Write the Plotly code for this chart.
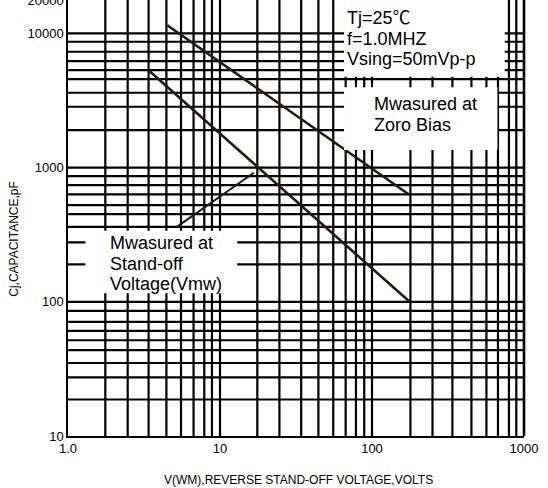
import plotly.graph_objects as go

# ---- data ----
zero_bias_v = [4.5, 175]
zero_bias_pf = [11500, 630]
standoff_v = [3.4, 177]
standoff_pf = [5300, 100]
leader_v = [5.2, 16.7]
leader_pf = [362, 915]

x_grid = [1.76, 2.47, 3.39, 4.44, 5.54, 6.70, 7.88, 8.85, 10,
          17.6, 24.6, 34.2, 44.4, 55.6, 67.1, 78.4, 88.9, 100,
          179, 250, 338, 451, 566, 674, 796, 890]
y_grid = [18.7, 27.3, 35.0, 43.6, 51.7, 60.7, 70.8, 85.5, 100,
          190, 277, 362, 450, 525, 631, 741, 864, 1000,
          1904, 2841, 3612, 4571, 5333, 6223, 7302, 8670, 10000]
x_tick_vals = [1, 10, 100, 1000]
x_tick_text = ["1.0", "10", "100", "1000"]
y_tick_vals = [10, 100, 1000, 10000, 17660]
y_tick_text = ["10", "100", "1000", "10000", "20000"]

note_top = ["Tj=25\u2103", "f=1.0MHZ", "Vsing=50mVp-p"]
note_zero = ["Mwasured at", "Zoro Bias"]
note_standoff = ["Mwasured at", "Stand-off", "Voltage(Vmw)"]
x_title = "V(WM),REVERSE STAND-OFF VOLTAGE,VOLTS"
y_title = "Cj,CAPACITANCE,pF"

# ---- layout geometry (pixels) ----
W, H = 548, 488
L, R, T, B = 67.5, 524.3, 0.0, 435.7
PW, PH = R - L, B - T
FONT = "Liberation Sans, Arial, Noto Sans CJK SC, sans-serif"
X_MIN, X_MAX = 1, 1000
Y_MIN, Y_MAX = 10, 20000


def px(xp):
    return (xp - L) / PW


def py(yp):
    return (B - yp) / PH


fig = go.Figure()

# grid
gx, gy = [], []
for v in x_grid:
    gx += [v, v, None]
    gy += [Y_MIN, Y_MAX, None]
for v in y_grid:
    gx += [X_MIN, X_MAX, None]
    gy += [v, v, None]
fig.add_trace(go.Scatter(x=gx, y=gy, mode="lines",
                         line=dict(color="black", width=2.2),
                         hoverinfo="skip", showlegend=False))

# curves
curve_color = "#231815"
fig.add_trace(go.Scatter(x=zero_bias_v, y=zero_bias_pf, mode="lines",
                         line=dict(color=curve_color, width=2.6),
                         showlegend=False))
fig.add_trace(go.Scatter(x=standoff_v, y=standoff_pf, mode="lines",
                         line=dict(color=curve_color, width=2.6),
                         showlegend=False))
fig.add_trace(go.Scatter(x=leader_v, y=leader_pf, mode="lines",
                         line=dict(color=curve_color, width=2.0),
                         showlegend=False))

shapes = []
# white label boxes
for (x0, x1, y0, y1) in [(344, 505, -2, 76.7), (344, 497.7, 87.3, 150),
                         (85, 237, 230.7, 293)]:
    shapes.append(dict(type="rect", xref="paper", yref="paper",
                       x0=px(x0), x1=px(x1), y0=py(y1), y1=py(y0),
                       fillcolor="white", line=dict(width=0), layer="above"))
# right border
shapes.append(dict(type="line", xref="paper", yref="paper", x0=1, x1=1,
                   y0=0, y1=1.01, line=dict(color="black", width=2.6),
                   layer="above"))

annotations = []


def note(lines, xl, centers):
    for t, c in zip(lines, centers):
        annotations.append(dict(text=t, xref="paper", yref="paper",
                                x=px(xl), y=py(c), xanchor="left",
                                yanchor="middle", showarrow=False,
                                font=dict(family=FONT, size=18, color="black")))


note(note_top, 345, [17.5, 39, 59])
note(note_zero, 372, [104, 124.5])
note(note_standoff, 107.5, [242.5, 263.5, 283.5])

annotations.append(dict(text=x_title, xref="paper", yref="paper",
                        x=px(298.5), y=py(480), xanchor="center",
                        yanchor="middle", showarrow=False,
                        font=dict(family=FONT, size=12, color="black")))
annotations.append(dict(text=y_title, xref="paper", yref="paper",
                        x=px(14), y=py(239), xanchor="center",
                        yanchor="middle", textangle=-90, showarrow=False,
                        font=dict(family=FONT, size=12, color="black")))

fig.update_layout(
    width=W, height=H,
    margin=dict(l=L, r=W - R, t=T, b=H - B, pad=0, autoexpand=False),
    paper_bgcolor="white", plot_bgcolor="white",
    shapes=shapes, annotations=annotations, showlegend=False,
    xaxis=dict(type="log", range=[0, 3], showgrid=False, zeroline=False,
               showline=True, linecolor="black", linewidth=1.5,
               automargin=False, ticklabeloverflow="allow",
               tickvals=x_tick_vals, ticktext=x_tick_text, ticks="",
               tickfont=dict(family=FONT, size=13, color="black")),
    yaxis=dict(type="log", range=[1, 4.249], showgrid=False, zeroline=False,
               showline=True, linecolor="black", linewidth=1.5,
               automargin=False, ticklabeloverflow="allow",
               tickvals=y_tick_vals, ticktext=y_tick_text, ticks="",
               tickfont=dict(family=FONT, size=13, color="black")),
)

fig.write_html("out.html",
               config={"displayModeBar": False},
               post_script="document.body.style.margin='0px';"
                           "document.body.style.overflow='hidden';")
